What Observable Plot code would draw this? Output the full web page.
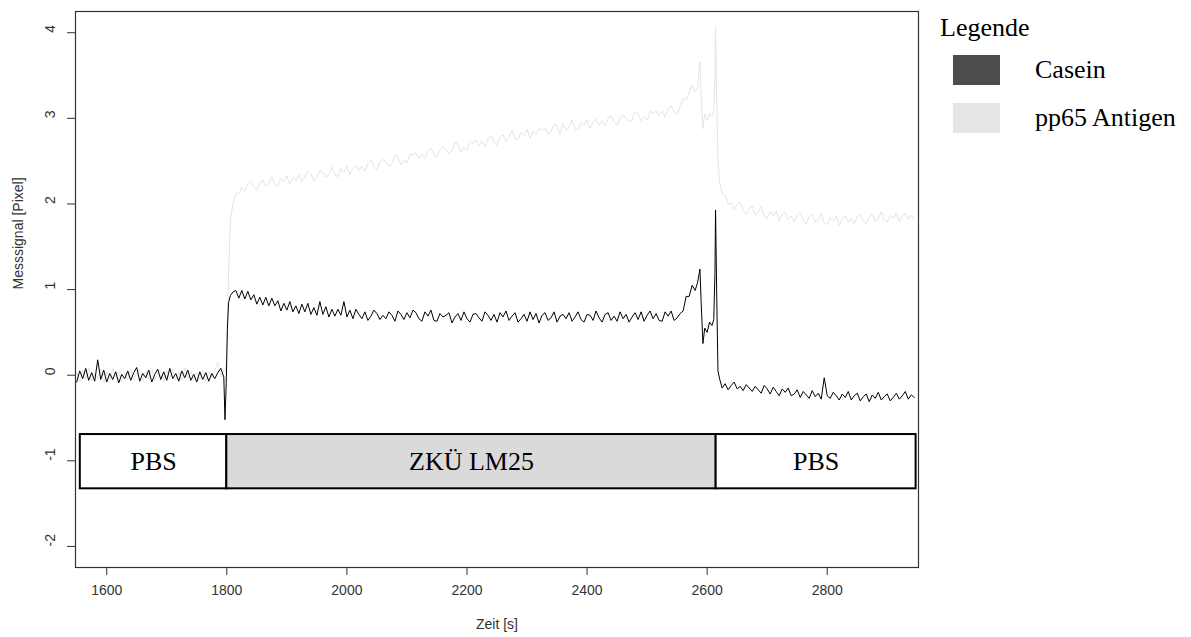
<!DOCTYPE html>
<html>
<head>
<meta charset="utf-8">
<script src="https://cdn.jsdelivr.net/npm/d3@7"></script>
<script src="https://cdn.jsdelivr.net/npm/@observablehq/plot@0.6"></script>
<style>
  body { margin: 0; background: #fff; }
  #wrap { position: relative; width: 1191px; height: 637px; overflow: hidden; }
  .lg { position: absolute; font-family: "Liberation Serif", "Times New Roman", serif; font-size: 26px; color: #000; line-height: 1; white-space: nowrap; }
  .sw { position: absolute; width: 47px; height: 30px; }
</style>
</head>
<body>
<div id="wrap"></div>
<script>
// ---- data ----
const zeit = [
  1550,1555,1560,1565,1570,1575,1580,1585,1590,1595,
  1600,1605,1610,1615,1620,1625,1630,1635,1640,1645,
  1650,1655,1660,1665,1670,1675,1680,1685,1690,1695,
  1700,1705,1710,1715,1720,1725,1730,1735,1740,1745,
  1750,1755,1760,1765,1770,1775,1780,1785,1790,1795,
  1797,1799,1801,1803,1806,1810,
  1815,1820,1825,1830,1835,1840,1845,1850,1855,1860,
  1865,1870,1875,1880,1885,1890,1895,1900,1905,1910,
  1915,1920,1925,1930,1935,1940,1945,1950,1955,1960,
  1965,1970,1975,1980,1985,1990,1995,2000,2005,2010,
  2015,2020,2025,2030,2035,2040,2045,2050,2055,2060,
  2065,2070,2075,2080,2085,2090,2095,2100,2105,2110,
  2115,2120,2125,2130,2135,2140,2145,2150,2155,2160,
  2165,2170,2175,2180,2185,2190,2195,2200,2205,2210,
  2215,2220,2225,2230,2235,2240,2245,2250,2255,2260,
  2265,2270,2275,2280,2285,2290,2295,2300,2305,2310,
  2315,2320,2325,2330,2335,2340,2345,2350,2355,2360,
  2365,2370,2375,2380,2385,2390,2395,2400,2405,2410,
  2415,2420,2425,2430,2435,2440,2445,2450,2455,2460,
  2465,2470,2475,2480,2485,2490,2495,2500,2505,2510,
  2515,2520,2525,2530,2535,2540,2545,2550,2555,2560,
  2565,2570,2575,2580,
  2584,2588,2590,2593,2596,2600,2604,2608,2611,2613,2614,2616,2618,2621,2625,
  2630,2635,2640,2645,2650,2655,2660,2665,2670,2675,
  2680,2685,2690,2695,2700,2705,2710,2715,2720,2725,
  2730,2735,2740,2745,2750,2755,2760,2765,2770,2775,
  2780,2785,2790,2795,2800,2805,2810,2815,2820,2825,
  2830,2835,2840,2845,2850,2855,2860,2865,2870,2875,
  2880,2885,2890,2895,2900,2905,2910,2915,2920,2925,
  2930,2935,2940,2945
];

const casein = [
  -0.08,0.05,-0.04,0.08,-0.06,0.03,-0.07,0.18,-0.05,0.06,
  -0.08,0.02,-0.05,0.04,-0.09,0.01,-0.04,0.05,-0.06,0.03,
  0.09,-0.07,0.02,-0.03,0.06,-0.08,0.01,0.07,-0.05,0.04,
  -0.06,0.08,-0.04,0.02,-0.07,0.05,-0.03,0.06,-0.06,0.01,
  -0.08,0.04,-0.05,0.03,-0.07,0.02,-0.04,0.03,0.08,-0.02,
  -0.52,-0.10,0.55,0.85,0.93,0.97,
  0.99,0.90,0.99,0.89,0.98,0.88,0.94,0.83,0.91,0.82,
  0.91,0.81,0.90,0.81,0.87,0.75,0.84,0.76,0.86,0.74,
  0.81,0.72,0.83,0.74,0.84,0.71,0.79,0.70,0.86,0.71,
  0.80,0.68,0.77,0.69,0.77,0.70,0.86,0.68,0.76,0.66,
  0.77,0.71,0.66,0.74,0.64,0.69,0.76,0.72,0.65,0.70,
  0.66,0.74,0.70,0.63,0.75,0.71,0.65,0.73,0.67,0.76,
  0.73,0.66,0.63,0.74,0.69,0.76,0.64,0.63,0.72,0.68,
  0.70,0.73,0.61,0.68,0.72,0.64,0.74,0.66,0.62,0.71,
  0.72,0.67,0.63,0.74,0.70,0.64,0.71,0.62,0.73,0.68,
  0.75,0.64,0.69,0.73,0.62,0.66,0.71,0.63,0.74,0.65,
  0.72,0.61,0.70,0.73,0.64,0.67,0.74,0.62,0.69,0.71,
  0.66,0.73,0.63,0.68,0.74,0.65,0.62,0.71,0.70,0.64,
  0.75,0.67,0.62,0.71,0.73,0.64,0.69,0.63,0.74,0.66,
  0.71,0.62,0.68,0.73,0.65,0.74,0.63,0.70,0.75,0.66,
  0.72,0.64,0.63,0.74,0.69,0.75,0.64,0.67,0.72,0.75,
  0.92,0.92,1.05,0.99,
  1.08,1.24,0.85,0.37,0.55,0.50,0.62,0.58,0.65,1.20,1.93,0.90,0.05,-0.05,-0.15,
  -0.10,-0.17,-0.12,-0.08,-0.16,-0.13,-0.18,-0.11,-0.15,-0.19,
  -0.13,-0.17,-0.21,-0.12,-0.16,-0.22,-0.14,-0.19,-0.24,-0.16,
  -0.20,-0.15,-0.24,-0.22,-0.17,-0.26,-0.19,-0.23,-0.27,-0.18,
  -0.25,-0.21,-0.28,-0.03,-0.24,-0.27,-0.20,-0.24,-0.29,-0.22,
  -0.26,-0.19,-0.29,-0.24,-0.21,-0.30,-0.25,-0.22,-0.31,-0.23,
  -0.27,-0.20,-0.29,-0.25,-0.22,-0.30,-0.26,-0.21,-0.28,-0.24,
  -0.19,-0.28,-0.23,-0.26
];

const pp65 = [
  0.03,-0.08,0.06,-0.05,0.09,-0.07,0.02,-0.04,0.07,-0.09,
  0.04,-0.06,0.08,-0.03,0.05,-0.08,0.03,-0.05,0.07,-0.06,
  0.02,0.06,-0.07,0.05,-0.04,0.08,-0.06,0.03,0.06,-0.08,
  0.05,-0.03,0.07,-0.06,0.04,-0.07,0.09,-0.04,0.05,-0.06,
  0.03,-0.05,0.06,-0.07,0.04,-0.03,0.05,0.15,-0.02,0.06,
  0.05,0.15,0.60,1.20,1.80,2.00,
  2.12,2.12,2.19,2.15,2.24,2.27,2.20,2.16,2.25,2.28,
  2.20,2.24,2.32,2.23,2.21,2.30,2.26,2.33,2.23,2.31,
  2.27,2.34,2.26,2.32,2.38,2.35,2.27,2.31,2.39,2.36,
  2.31,2.35,2.43,2.34,2.32,2.41,2.37,2.44,2.34,2.42,
  2.45,2.39,2.44,2.38,2.47,2.51,2.43,2.40,2.49,2.52,
  2.49,2.44,2.47,2.57,2.55,2.46,2.51,2.48,2.58,2.57,
  2.59,2.53,2.58,2.53,2.62,2.65,2.58,2.55,2.64,2.67,
  2.64,2.59,2.62,2.72,2.70,2.61,2.66,2.63,2.73,2.71,
  2.74,2.68,2.73,2.67,2.76,2.80,2.72,2.69,2.78,2.81,
  2.73,2.78,2.86,2.76,2.75,2.84,2.80,2.87,2.77,2.85,
  2.81,2.88,2.86,2.89,2.81,2.85,2.93,2.91,2.82,2.94,
  2.86,2.90,2.98,2.88,2.87,2.95,2.92,2.98,2.88,2.96,
  2.99,2.92,2.97,2.91,3.00,3.03,2.96,2.92,3.01,3.04,
  3.00,2.96,2.98,3.08,3.05,2.97,3.02,2.98,3.08,3.06,
  3.09,3.03,3.08,3.02,3.11,3.15,3.07,3.04,3.15,3.23,
  3.22,3.30,3.39,3.31,
  3.36,3.66,3.25,2.88,3.05,2.98,3.06,3.02,3.08,3.50,4.07,3.20,2.50,2.25,2.12,
  2.10,2.00,2.01,1.94,2.00,2.02,1.93,1.88,1.95,1.97,
  1.87,1.90,1.97,1.86,1.83,1.91,1.86,1.92,1.80,1.88,
  1.90,1.82,1.86,1.79,1.87,1.90,1.81,1.77,1.85,1.88,
  1.78,1.82,1.89,1.78,1.76,1.84,1.80,1.86,1.75,1.83,
  1.86,1.79,1.83,1.77,1.85,1.88,1.80,1.77,1.85,1.88,
  1.79,1.83,1.91,1.81,1.79,1.87,1.83,1.90,1.79,1.87,
  1.89,1.82,1.87,1.81
];

const phaseLabels = ["PBS", "ZKÜ LM25", "PBS"];
const phaseStart  = [1556, 1800, 2615];
const phaseEnd    = [1800, 2615, 2948];
const phaseTop    = -0.693;
const phaseBottom = -1.327;

const xTicks = [1600, 1800, 2000, 2200, 2400, 2600, 2800];
const yTicks = [-2, -1, 0, 1, 2, 3, 4];

const seriesNames = ["Casein", "pp65 Antigen"];
const legendTitle = "Legende";
const xLabel = "Zeit [s]";
const yLabel = "Messsignal [Pixel]";

// ---- build tables ----
const caseinRows = zeit.map((t, i) => ({t, v: casein[i]}));
const pp65Rows = zeit.map((t, i) => ({t, v: pp65[i]}));
const phases = phaseLabels.map((label, i) => ({label, x1: phaseStart[i], x2: phaseEnd[i], i}));

const serif = "'Liberation Serif', 'Times New Roman', serif";

const chart = Plot.plot({
  width: 1191,
  height: 637,
  marginLeft: 75,
  marginRight: 273,
  marginTop: 11,
  marginBottom: 70,
  x: {domain: [1548, 2952]},
  y: {domain: [-2.246, 4.248]},
  style: {fontFamily: "'Liberation Sans', Arial, sans-serif", fontSize: "14px", color: "#333", background: "#fff"},
  marks: [
    Plot.rect(phases, {
      x1: "x1", x2: "x2", y1: () => phaseTop, y2: () => phaseBottom,
      fill: d => d.i === 1 ? "#dadada" : "#ffffff", stroke: "#000", strokeWidth: 2
    }),
    Plot.text(phases, {
      x: d => (d.x1 + d.x2) / 2, y: () => (phaseTop + phaseBottom) / 2, text: "label",
      fontFamily: serif, fontSize: 26, fill: "#000"
    }),
    Plot.line(pp65Rows, {x: "t", y: "v", stroke: "#e4e4e4", strokeWidth: 1}),
    Plot.line(caseinRows, {x: "t", y: "v", stroke: "#000", strokeWidth: 1}),
    Plot.frame({stroke: "#333", strokeWidth: 1.2}),
    Plot.axisX({ticks: xTicks, tickSize: 8, tickPadding: 10, tickFormat: d => String(d), label: null}),
    Plot.axisY({ticks: yTicks, tickSize: 8, tickFormat: () => "", label: null}),
    Plot.text(yTicks, {y: d => d, text: d => String(d), frameAnchor: "left", dx: -25, rotate: -90, fill: "#333"}),
    Plot.text([xLabel], {text: d => d, frameAnchor: "bottom", dy: 61, fill: "#333"}),
    Plot.text([yLabel], {text: d => d, frameAnchor: "left", dx: -57, rotate: -90, fill: "#333"})
  ]
});

const wrap = document.getElementById("wrap");
wrap.appendChild(chart);

// ---- legend (HTML, on the right of the plot) ----
function addDiv(cls, left, top, text, bg) {
  const el = document.createElement("div");
  el.className = cls;
  el.style.left = left + "px";
  el.style.top = top + "px";
  if (text) el.textContent = text;
  if (bg) el.style.background = bg;
  wrap.appendChild(el);
  return el;
}
const swatchColors = ["#4d4d4d", "#e5e5e5"];
addDiv("lg", 940, 15, legendTitle);
seriesNames.forEach((name, i) => {
  const top = 55 + i * 48;
  addDiv("sw", 953, top, null, swatchColors[i]);
  addDiv("lg", 1035, top + 2, name);
});
</script>
</body>
</html>
